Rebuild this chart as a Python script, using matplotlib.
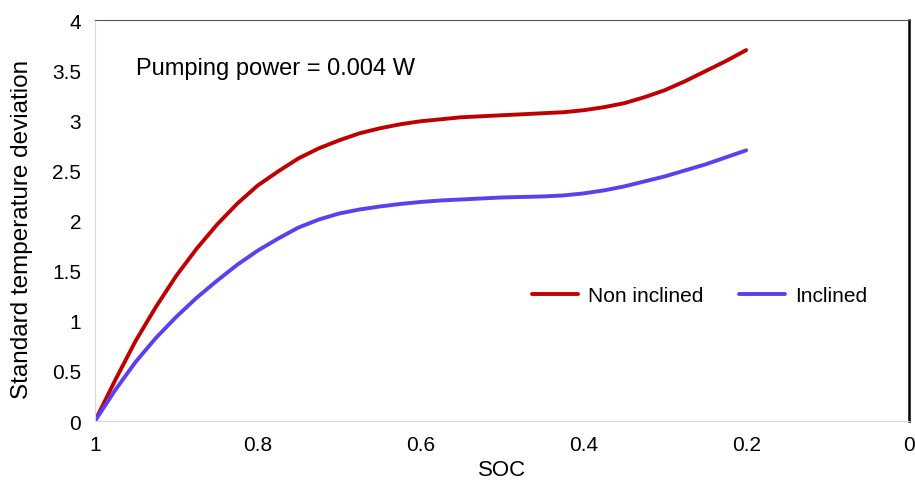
import matplotlib
matplotlib.use("Agg")
import matplotlib.pyplot as plt

plt.rcParams['font.family'] = ['Liberation Sans', 'DejaVu Sans']

# SOC goes from 1 down to 0.2
soc = [1.0, 0.975, 0.95, 0.925, 0.9, 0.875, 0.85, 0.825, 0.8, 0.775,
       0.75, 0.725, 0.7, 0.675, 0.65, 0.625, 0.6, 0.575, 0.55, 0.525,
       0.5, 0.475, 0.45, 0.425, 0.4, 0.375, 0.35, 0.325, 0.3, 0.275,
       0.25, 0.225, 0.2]
non_inclined = [0.00, 0.41, 0.80, 1.14, 1.45, 1.72, 1.96, 2.17, 2.35, 2.49,
                2.62, 2.72, 2.80, 2.87, 2.92, 2.96, 2.99, 3.01, 3.03, 3.04,
                3.05, 3.06, 3.07, 3.08, 3.10, 3.13, 3.17, 3.23, 3.30, 3.39,
                3.49, 3.59, 3.70]
inclined = [0.00, 0.31, 0.59, 0.83, 1.04, 1.23, 1.40, 1.56, 1.70, 1.82,
            1.93, 2.01, 2.07, 2.11, 2.14, 2.165, 2.185, 2.20, 2.21, 2.22,
            2.23, 2.235, 2.24, 2.25, 2.27, 2.30, 2.34, 2.39, 2.44, 2.50,
            2.56, 2.63, 2.70]

xticks = [1, 0.8, 0.6, 0.4, 0.2, 0]
xlabels = ['1', '0.8', '0.6', '0.4', '0.2', '0']
yticks = [0, 0.5, 1, 1.5, 2, 2.5, 3, 3.5, 4]
ylabels = ['0', '0.5', '1', '1.5', '2', '2.5', '3', '3.5', '4']

fig = plt.figure(figsize=(9.15, 4.89), dpi=100)
ax = fig.add_axes([0.1038, 0.137, 0.8896, 0.820])

ax.plot(soc, non_inclined, color='#c00000', lw=2.8, label='Non inclined',
        solid_capstyle='round', solid_joinstyle='round')
ax.plot(soc, inclined, color='#5b3ff0', lw=2.8, label='Inclined',
        solid_capstyle='round', solid_joinstyle='round')

ax.set_xlim(1, 0)
ax.set_ylim(0, 4)
ax.set_xticks(xticks, xlabels)
ax.set_yticks(yticks, ylabels)
ax.tick_params(length=0, labelsize=15, pad=10)

ax.spines['left'].set_color('#d9d9d9')
ax.spines['bottom'].set_color('#d9d9d9')
ax.spines['top'].set_color('#555555')
ax.spines['right'].set_color('black')
ax.spines['right'].set_linewidth(1.8)

ax.set_xlabel('SOC', fontsize=16, labelpad=4)
ax.set_ylabel('Standard temperature deviation', fontsize=17.5)
ax.yaxis.set_label_coords(-0.076, 0.481)

ax.text(0.05, 0.88, 'Pumping power = 0.004 W', transform=ax.transAxes,
        fontsize=17, va='center', ha='left')

ax.legend(ncol=2, frameon=False, fontsize=15, loc='center',
          bbox_to_anchor=(0.743, 0.312), handlelength=2.2,
          columnspacing=1.7, handletextpad=0.5)

fig.savefig('out.png', dpi=100)
